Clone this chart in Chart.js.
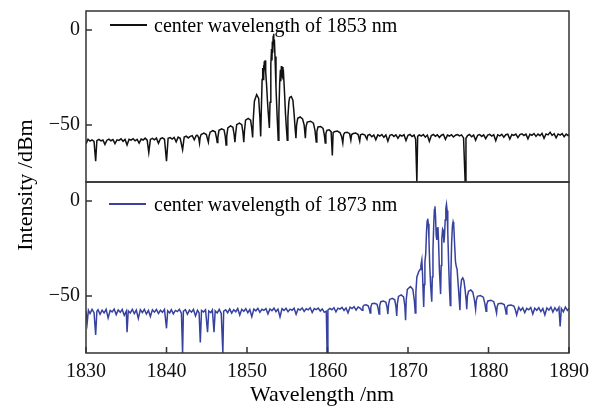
<!DOCTYPE html>
<html>
<head>
<meta charset="utf-8">
<script src="https://cdn.jsdelivr.net/npm/chart.js@4.4.1/dist/chart.umd.min.js"></script>
<style>
  body { margin: 0; background: #fff; }
  #wrap { position: relative; width: 598px; height: 409px; font-family: "Liberation Serif", serif; color: #000; }
  .panel { position: absolute; left: 0; width: 598px; }
  .leyenda { position: absolute; font-size: 20px; line-height: 20px; white-space: nowrap; }
  .linea { position: absolute; width: 37px; height: 1.6px; }
  .titulo { position: absolute; font-size: 22px; line-height: 22px; white-space: nowrap; text-align: center; }
</style>
</head>
<body>
<div id="wrap">
  <div class="panel" style="top:0;height:183px"><canvas id="chart1853"></canvas></div>
  <div class="panel" style="top:181px;height:228px"><canvas id="chart1873"></canvas></div>

  <div class="linea" style="left:110px;top:24px;background:#111"></div>
  <div class="leyenda" style="left:154px;top:15px">center wavelength of 1853 nm</div>
  <div class="linea" style="left:109px;top:203px;background:#37419e"></div>
  <div class="leyenda" style="left:154px;top:194px">center wavelength of 1873 nm</div>

  <div class="titulo" style="left:-75px;top:174px;width:200px;transform:rotate(-90deg)">Intensity /dBm</div>
  <div class="titulo" style="left:222px;top:383px;width:200px">Wavelength /nm</div>
</div>

<script>
// Ticks de los ejes
const xTicks = [1830, 1840, 1850, 1860, 1870, 1880, 1890];
const yTicks = [-50, 0];

// Espectro centrado en 1853 nm: [longitud de onda (nm), intensidad (dBm)]
const spec1853 = [
  [1830.0,-60.0],[1830.25,-57.5],[1830.5,-58.5],[1830.75,-57.8],[1831.0,-58.6],[1831.2,-69.0],[1831.35,-58.2],[1831.6,-57.6],
  [1831.85,-58.4],[1832.1,-57.9],[1832.35,-60.2],[1832.6,-58.0],[1832.85,-57.4],[1833.1,-58.3],[1833.35,-57.7],[1833.6,-59.8],
  [1833.85,-57.8],[1834.1,-58.1],[1834.35,-57.3],[1834.6,-58.6],[1834.85,-57.6],[1835.1,-60.5],[1835.35,-57.5],[1835.6,-58.0],
  [1835.85,-57.2],[1836.1,-58.3],[1836.35,-57.6],[1836.6,-59.5],[1836.85,-57.4],[1837.1,-57.9],[1837.35,-56.9],[1837.6,-58.0],
  [1837.8,-64.5],[1838.0,-57.6],[1838.25,-57.0],[1838.5,-57.8],[1838.75,-56.9],[1839.0,-59.6],[1839.25,-57.2],[1839.5,-56.8],
  [1839.75,-57.5],[1840.0,-69.0],[1840.2,-57.0],[1840.45,-56.6],[1840.7,-57.4],[1840.95,-56.5],[1841.2,-58.9],[1841.45,-56.4],
  [1841.7,-57.0],[1842.0,-63.0],[1842.2,-56.3],[1842.45,-55.9],[1842.7,-56.8],[1842.95,-56.0],[1843.2,-55.6],[1843.45,-57.8],
  [1843.7,-55.5],[1843.85,-55.4],[1844.0,-56.8],[1844.1,-59.5],
  [1844.18,-56.5],[1844.3,-55.0],[1844.65,-54.3],[1844.95,-55.0],[1845.1,-57.5],[1845.2,-59.0],
  [1845.28,-56.0],[1845.42,-53.8],[1845.75,-53.0],[1846.05,-53.6],[1846.2,-56.5],[1846.3,-59.2],
  [1846.38,-56.5],[1846.52,-52.8],[1846.85,-52.0],[1847.15,-52.6],[1847.3,-56.0],[1847.4,-60.5],
  [1847.48,-56.0],[1847.62,-51.5],[1847.95,-50.5],[1848.25,-51.2],[1848.4,-55.0],[1848.5,-59.0],
  [1848.58,-55.0],[1848.72,-49.8],[1849.05,-49.0],[1849.35,-49.8],[1849.5,-54.0],[1849.6,-59.0],
  [1849.68,-53.5],[1849.82,-47.5],[1850.15,-46.5],[1850.45,-47.5],[1850.6,-52.0],[1850.7,-56.5],
  [1850.78,-47.0],[1850.92,-37.5],[1851.2,-34.0],[1851.45,-36.0],[1851.6,-46.0],[1851.7,-56.0],
  [1851.78,-42.0],[1851.88,-26.0],[1851.95,-20.0],[1852.0,-26.0],[1852.05,-18.5],[1852.1,-24.0],[1852.15,-16.5],
  [1852.2,-21.0],[1852.25,-16.0],[1852.32,-22.0],[1852.42,-28.0],[1852.55,-38.0],[1852.68,-46.0],[1852.78,-51.6],
  [1852.86,-38.0],[1852.96,-18.0],[1853.05,-10.0],[1853.1,-16.0],[1853.15,-6.0],[1853.2,-12.0],[1853.25,-3.0],
  [1853.3,-2.0],[1853.35,-8.0],[1853.4,-5.0],[1853.48,-14.0],[1853.6,-30.0],[1853.75,-46.0],[1853.88,-58.0],
  [1853.96,-44.0],[1854.06,-28.0],[1854.15,-21.0],[1854.2,-27.0],[1854.27,-19.0],[1854.33,-25.0],[1854.4,-19.5],
  [1854.47,-26.0],[1854.55,-24.0],[1854.65,-32.0],[1854.78,-44.0],[1854.9,-52.0],[1855.0,-58.0],
  [1855.08,-46.0],[1855.2,-38.0],[1855.3,-35.5],[1855.5,-35.0],[1855.7,-37.0],[1855.85,-44.0],[1855.98,-52.0],[1856.08,-57.0],
  [1856.16,-50.0],[1856.3,-46.5],[1856.6,-45.8],[1856.9,-46.8],[1857.1,-50.0],[1857.25,-57.0],
  [1857.33,-51.0],[1857.48,-48.5],[1857.9,-48.0],[1858.25,-49.0],[1858.45,-53.0],[1858.6,-59.0],
  [1858.68,-53.5],[1858.82,-51.0],[1859.15,-50.8],[1859.45,-51.8],[1859.6,-55.0],[1859.72,-59.5],
  [1859.8,-54.5],[1859.92,-52.8],[1860.2,-52.5],[1860.45,-53.5],[1860.6,-66.0],
  [1860.7,-54.0],[1860.85,-53.5],[1861.2,-53.2],[1861.55,-54.0],[1861.75,-56.0],[1861.9,-59.5],
  [1862.0,-55.0],[1862.15,-54.0],[1862.45,-53.8],[1862.75,-54.6],[1862.9,-58.0],[1863.0,-55.0],
  [1863.2,-54.5],[1863.5,-54.2],[1863.8,-55.0],[1864.0,-58.5],[1864.1,-55.2],[1864.35,-54.8],[1864.65,-55.3],
  [1864.9,-57.5],[1865.0,-55.4],[1865.25,-55.0],[1865.5,-56.2],[1865.75,-55.3],[1866.0,-57.8],[1866.25,-55.2],
  [1866.5,-55.8],[1866.75,-55.0],[1867.0,-56.5],[1867.25,-55.3],[1867.5,-58.5],[1867.75,-55.4],[1868.0,-55.0],
  [1868.25,-56.0],[1868.5,-55.2],[1868.75,-57.0],[1869.0,-55.3],[1869.25,-55.8],[1869.5,-55.1],[1869.75,-58.2],
  [1870.0,-55.4],[1870.25,-55.0],[1870.5,-56.1],[1870.75,-55.3],[1870.95,-57.5],[1871.1,-80.0],[1871.2,-56.0],
  [1871.4,-55.2],[1871.65,-55.8],[1871.9,-55.0],[1872.15,-56.4],[1872.4,-55.3],[1872.65,-58.6],[1872.9,-55.5],
  [1873.15,-55.0],[1873.4,-55.9],[1873.65,-55.2],[1873.9,-56.6],[1874.15,-55.4],[1874.4,-55.0],[1874.65,-57.6],
  [1874.9,-55.3],[1875.15,-55.8],[1875.4,-55.1],[1875.65,-56.3],[1875.9,-55.4],[1876.15,-55.0],[1876.4,-55.7],
  [1876.65,-55.2],[1876.9,-56.8],[1877.1,-80.0],[1877.2,-57.0],[1877.4,-55.6],[1877.65,-55.0],[1877.9,-56.2],
  [1878.15,-55.3],[1878.4,-58.0],[1878.65,-55.4],[1878.9,-55.0],[1879.15,-56.0],[1879.4,-55.2],[1879.65,-57.2],
  [1879.9,-55.3],[1880.15,-54.9],[1880.4,-55.8],[1880.65,-55.1],[1880.9,-58.3],[1881.15,-55.2],[1881.4,-55.7],
  [1881.65,-54.9],[1881.9,-56.4],[1882.15,-55.1],[1882.4,-54.8],[1882.65,-57.4],[1882.9,-55.0],[1883.15,-55.5],
  [1883.4,-54.8],[1883.65,-56.6],[1883.9,-55.0],[1884.15,-54.6],[1884.4,-55.5],[1884.65,-54.8],[1884.9,-57.3],
  [1885.15,-54.9],[1885.4,-55.4],[1885.65,-54.5],[1885.9,-56.0],[1886.15,-54.8],[1886.4,-55.6],[1886.65,-54.4],
  [1886.9,-57.0],[1887.15,-54.7],[1887.4,-55.2],[1887.65,-53.8],[1887.9,-55.5],[1888.15,-54.6],[1888.4,-56.8],
  [1888.65,-54.7],[1888.9,-55.3],[1889.15,-54.5],[1889.4,-56.2],[1889.65,-54.8],[1889.9,-55.6],[1890.0,-55.0]
];

// Espectro centrado en 1873 nm
const spec1873 = [
  [1830.0,-58.0],[1830.15,-64.0],[1830.3,-57.5],[1830.5,-59.2],[1830.75,-57.0],[1831.0,-58.8],[1831.2,-70.5],[1831.35,-58.0],
  [1831.5,-57.2],[1831.75,-59.6],[1832.0,-57.5],[1832.25,-58.9],[1832.5,-57.0],[1832.75,-61.5],[1833.0,-57.6],[1833.25,-58.4],
  [1833.5,-56.9],[1833.75,-59.8],[1834.0,-57.3],[1834.25,-58.6],[1834.5,-57.1],[1834.75,-60.2],[1835.0,-58.0],[1835.1,-69.0],
  [1835.25,-57.8],[1835.5,-58.9],[1835.75,-57.0],[1836.0,-59.3],[1836.25,-57.4],[1836.5,-61.8],[1836.75,-57.2],[1837.0,-58.7],
  [1837.25,-57.0],[1837.5,-59.5],[1837.75,-57.6],[1838.0,-60.8],[1838.25,-57.3],[1838.5,-58.5],[1838.75,-57.1],[1839.0,-59.2],
  [1839.25,-57.5],[1839.5,-58.6],[1839.75,-57.0],[1840.0,-67.0],[1840.15,-57.8],[1840.4,-58.9],[1840.6,-57.2],[1840.85,-59.4],
  [1841.1,-57.6],[1841.35,-58.2],[1841.6,-57.0],[1841.85,-59.0],[1842.0,-80.0],[1842.1,-58.0],[1842.35,-57.2],[1842.6,-59.6],
  [1842.85,-57.4],[1843.1,-58.5],[1843.35,-57.1],[1843.6,-60.5],[1843.85,-57.5],[1844.05,-58.9],[1844.2,-74.5],[1844.35,-57.6],
  [1844.6,-58.4],[1844.85,-57.2],[1845.1,-69.0],[1845.25,-57.9],[1845.5,-58.7],[1845.7,-57.3],[1845.9,-69.0],[1846.05,-57.8],
  [1846.3,-58.9],[1846.55,-57.0],[1846.8,-59.2],[1847.0,-80.0],[1847.1,-58.0],[1847.35,-57.3],[1847.6,-58.8],[1847.85,-56.8],
  [1848.1,-59.0],[1848.35,-57.2],[1848.6,-58.3],[1848.85,-56.6],[1849.1,-60.0],[1849.35,-57.0],[1849.6,-58.1],[1849.85,-56.7],
  [1850.1,-58.8],[1850.35,-57.1],[1850.6,-60.9],[1850.85,-56.9],[1851.1,-57.8],[1851.35,-56.5],[1851.6,-58.6],[1851.85,-57.0],
  [1852.1,-57.6],[1852.35,-56.6],[1852.6,-59.4],[1852.85,-56.8],[1853.1,-57.7],[1853.35,-56.4],[1853.6,-58.2],[1853.85,-56.9],
  [1854.1,-61.0],[1854.35,-56.7],[1854.6,-57.6],[1854.85,-56.5],[1855.1,-58.3],[1855.35,-56.9],[1855.6,-57.5],[1855.85,-56.4],
  [1856.1,-59.6],[1856.35,-56.8],[1856.6,-57.4],[1856.85,-56.3],[1857.1,-58.1],[1857.35,-56.7],[1857.6,-57.3],[1857.85,-56.2],
  [1858.1,-58.7],[1858.35,-56.6],[1858.6,-57.2],[1858.85,-56.4],[1859.1,-57.9],[1859.35,-56.8],[1859.6,-58.6],[1859.85,-58.0],
  [1859.95,-80.0],[1860.05,-57.4],[1860.3,-56.5],[1860.55,-57.2],[1860.8,-56.2],[1861.05,-58.4],[1861.3,-56.4],[1861.55,-56.9],
  [1861.8,-56.0],[1862.05,-57.6],[1862.3,-56.3],[1862.55,-58.9],[1862.8,-55.9],[1863.05,-56.6],[1863.3,-55.6],[1863.55,-57.4],
  [1863.8,-55.8],[1864.05,-56.4],[1864.3,-57.5],
  [1864.4,-55.5],[1864.55,-54.8],[1864.8,-54.6],[1865.05,-55.2],[1865.2,-57.0],[1865.3,-59.0],
  [1865.38,-55.8],[1865.52,-54.0],[1865.85,-53.8],[1866.15,-54.4],[1866.3,-56.8],[1866.4,-59.5],
  [1866.48,-55.0],[1866.62,-53.0],[1866.95,-52.6],[1867.25,-53.3],[1867.4,-56.0],[1867.5,-59.5],
  [1867.58,-54.8],[1867.72,-51.8],[1868.05,-51.2],[1868.35,-52.0],[1868.5,-55.5],[1868.6,-60.5],
  [1868.68,-54.0],[1868.82,-50.2],[1869.15,-49.4],[1869.45,-50.5],[1869.6,-55.0],[1869.7,-62.8],
  [1869.78,-52.0],[1869.92,-46.5],[1870.3,-45.0],[1870.6,-46.5],[1870.78,-52.0],[1870.9,-59.0],
  [1870.98,-48.0],[1871.1,-40.0],[1871.35,-37.0],[1871.5,-36.0],[1871.6,-34.0],[1871.72,-31.0],[1871.8,-38.0],[1871.88,-48.0],[1871.95,-55.8],
  [1872.02,-44.0],[1872.1,-32.0],[1872.2,-28.0],[1872.3,-16.0],[1872.38,-10.5],[1872.45,-9.3],[1872.52,-12.0],[1872.6,-20.0],
  [1872.7,-34.0],[1872.82,-45.0],[1872.95,-53.0],
  [1873.02,-40.0],[1873.1,-26.0],[1873.2,-12.0],[1873.28,-4.5],[1873.35,-2.8],[1873.42,-8.0],[1873.5,-18.0],[1873.58,-20.5],
  [1873.66,-14.5],[1873.72,-13.7],[1873.8,-22.0],[1873.9,-36.0],[1874.05,-49.0],
  [1874.12,-34.0],[1874.2,-20.0],[1874.3,-14.8],[1874.38,-15.5],[1874.46,-22.0],[1874.54,-18.0],[1874.62,-10.0],[1874.7,-4.0],
  [1874.78,-1.8],[1874.86,-5.0],[1874.94,-16.0],[1875.04,-32.0],[1875.15,-46.0],[1875.25,-55.0],
  [1875.32,-40.0],[1875.42,-22.0],[1875.52,-13.0],[1875.6,-11.0],[1875.68,-12.5],[1875.78,-22.0],[1875.9,-32.0],[1876.0,-34.5],
  [1876.1,-36.0],[1876.25,-45.0],[1876.45,-57.5],
  [1876.53,-46.0],[1876.65,-41.5],[1876.8,-40.5],[1876.95,-42.0],[1877.1,-47.0],[1877.22,-52.0],[1877.3,-57.0],
  [1877.38,-50.0],[1877.52,-47.5],[1877.8,-46.8],[1878.05,-48.0],[1878.25,-52.0],[1878.4,-57.0],
  [1878.48,-52.5],[1878.62,-50.2],[1879.0,-49.8],[1879.35,-50.6],[1879.55,-54.0],[1879.7,-58.0],
  [1879.78,-54.5],[1879.92,-52.6],[1880.3,-52.2],[1880.65,-53.0],[1880.85,-56.0],[1881.0,-59.0],
  [1881.08,-55.5],[1881.22,-54.0],[1881.6,-53.8],[1881.95,-54.5],[1882.1,-57.0],[1882.2,-59.5],
  [1882.28,-56.0],[1882.42,-55.0],[1882.8,-54.7],[1883.15,-55.3],[1883.35,-57.5],[1883.5,-60.0],
  [1883.75,-56.0],[1884.0,-57.6],[1884.25,-56.2],[1884.5,-58.8],[1884.75,-56.5],[1885.0,-57.2],[1885.25,-56.0],[1885.5,-59.5],
  [1885.75,-56.4],[1886.0,-57.5],[1886.25,-56.1],[1886.5,-58.2],[1886.75,-56.6],[1887.0,-60.0],[1887.25,-56.3],[1887.5,-57.4],
  [1887.75,-55.8],[1888.0,-58.5],[1888.25,-56.2],[1888.5,-57.8],[1888.75,-56.0],[1888.9,-66.0],[1889.05,-56.5],[1889.3,-58.3],
  [1889.55,-55.9],[1889.8,-57.6],[1890.0,-56.5]
];

// Marco y ticks hacia adentro
const marco = {
  id: 'marco',
  afterDatasetsDraw(chart, args, opts) {
    const { ctx, chartArea: a, scales } = chart;
    ctx.save();
    ctx.strokeStyle = '#333';
    ctx.lineWidth = 1.5;
    ctx.strokeRect(a.left, a.top, a.right - a.left, a.bottom - a.top);
    ctx.beginPath();
    yTicks.forEach(v => {
      const y = scales.y.getPixelForValue(v);
      ctx.moveTo(a.left, y);
      ctx.lineTo(a.left + 6, y);
    });
    if (opts.ejeX) {
      xTicks.forEach(v => {
        const x = scales.x.getPixelForValue(v);
        ctx.moveTo(x, a.bottom);
        ctx.lineTo(x, a.bottom - 6);
      });
    }
    ctx.stroke();
    ctx.restore();
  }
};

const fuente = { family: 'Liberation Serif', size: 20 };

function crearGrafico(id, puntos, color, ejeX) {
  const ctx = document.getElementById(id).getContext('2d');
  return new Chart(ctx, {
    type: 'line',
    data: {
      datasets: [{
        data: puntos.map(p => ({ x: p[0], y: p[1] })),
        borderColor: color,
        borderWidth: 1.5,
        pointRadius: 0,
        tension: 0
      }]
    },
    options: {
      responsive: true,
      maintainAspectRatio: false,
      animation: false,
      layout: {
        padding: ejeX ? { top: 1, right: 29, bottom: 0, left: 0 } : { top: 11, right: 29, bottom: 1, left: 0 }
      },
      scales: {
        x: {
          type: 'linear',
          min: 1830,
          max: 1890,
          display: ejeX,
          grid: { display: false, drawTicks: false },
          border: { display: false },
          afterBuildTicks: s => { s.ticks = xTicks.map(v => ({ value: v })); },
          afterFit: s => {
            if (ejeX) s.height = 56;
            s.paddingLeft = 0;
            s.paddingRight = 0;
          },
          ticks: { padding: 7, color: '#111', font: fuente, maxRotation: 0, autoSkip: false, callback: v => String(v) }
        },
        y: {
          min: -80,
          max: 10,
          grid: { display: false, drawTicks: false },
          border: { display: false },
          afterBuildTicks: s => { s.ticks = yTicks.map(v => ({ value: v })); },
          afterFit: s => {
            s.width = 86;
            s.paddingTop = 0;
            s.paddingBottom = 0;
          },
          ticks: { padding: 6, color: '#111', font: fuente, callback: v => String(v).replace('-', '\u2212') }
        }
      },
      plugins: {
        legend: { display: false },
        tooltip: { enabled: false },
        marco: { ejeX: ejeX }
      }
    },
    plugins: [marco]
  });
}

crearGrafico('chart1853', spec1853, '#111', false);
crearGrafico('chart1873', spec1873, '#37419e', true);
</script>
</body>
</html>
